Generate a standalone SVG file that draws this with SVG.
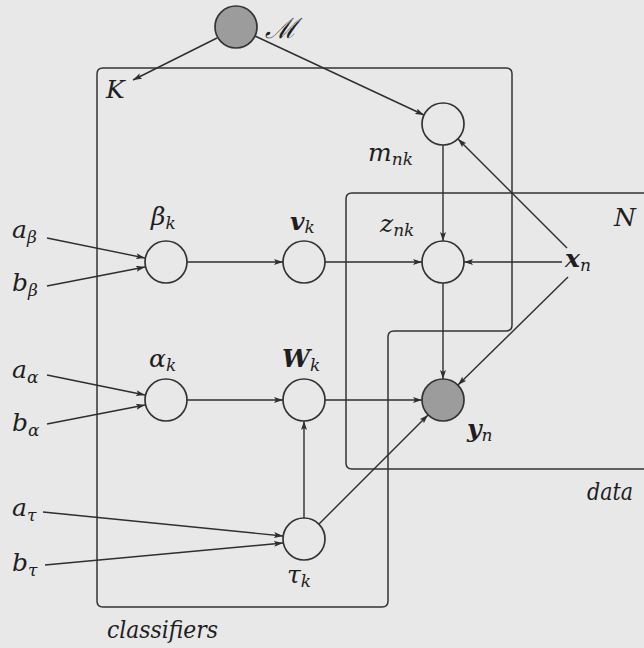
<svg xmlns="http://www.w3.org/2000/svg" width="644" height="648" viewBox="0 0 644 648">
<defs>
<style>
.plate{fill:none;stroke:#333;stroke-width:1.5}
.node{fill:none;stroke:#333;stroke-width:1.7}
.obs{fill:#9c9c9c;stroke:#333;stroke-width:1.7}
.edge{fill:none;stroke:#2e2e2e;stroke-width:1.4;marker-end:url(#arr)}
text{font-family:'DejaVu Serif',serif;font-style:italic;fill:#1e1e1e}
.m{font-size:25px}
.b{font-weight:bold}
.s{font-size:17px;font-weight:normal}
.t{font-size:25px}
</style>
<marker id="arr" viewBox="0 0 9 6" refX="9" refY="3" markerWidth="9" markerHeight="6" markerUnits="userSpaceOnUse" orient="auto">
<path d="M0,0 L9,3 L0,6 L2,3 z" fill="#2e2e2e"/>
</marker>
</defs>
<rect width="644" height="648" fill="#e8e8e8"/>
<g id="plates">
<path id="plate-classifiers" class="plate" d="M103 68 H506 Q512 68 512 74 V325 Q512 331 506 331 H394 Q388 331 388 337 V601 Q388 607 382 607 H103 Q97 607 97 601 V74 Q97 68 103 68 Z"/>
<path id="plate-data" class="plate" d="M660 193 H352 Q346 193 346 199 V463 Q346 469 352 469 H660"/>
<text class="m" x="106" y="98">K</text>
<text class="m" x="614" y="226">N</text>
<text class="t" x="107" y="638" textLength="111" lengthAdjust="spacingAndGlyphs">classifiers</text>
<text class="t" x="587" y="500" textLength="46" lengthAdjust="spacingAndGlyphs">data</text>
</g>
<g id="connectors">
<line class="edge" x1="217" y1="38" x2="133" y2="80"/>
<line class="edge" x1="255" y1="36" x2="424" y2="115"/>
<line class="edge" x1="567" y1="248" x2="458" y2="139"/>
<line class="edge" x1="443" y1="145" x2="443" y2="241"/>
<line class="edge" x1="562" y1="262" x2="464" y2="262"/>
<line class="edge" x1="187" y1="262" x2="283" y2="262"/>
<line class="edge" x1="325" y1="262" x2="422" y2="262"/>
<line class="edge" x1="443" y1="283" x2="443" y2="379"/>
<line class="edge" x1="568" y1="277" x2="458" y2="385"/>
<line class="edge" x1="187" y1="400" x2="283" y2="400"/>
<line class="edge" x1="325" y1="400" x2="422" y2="400"/>
<line class="edge" x1="304" y1="518" x2="304" y2="421"/>
<line class="edge" x1="319" y1="524" x2="428" y2="415"/>
<line class="edge" x1="47" y1="238" x2="145" y2="258"/>
<line class="edge" x1="47" y1="286" x2="145" y2="267"/>
<line class="edge" x1="47" y1="375" x2="145" y2="395"/>
<line class="edge" x1="47" y1="424" x2="145" y2="405"/>
<line class="edge" x1="43" y1="512" x2="283" y2="536"/>
<line class="edge" x1="45" y1="565" x2="283" y2="543"/>
</g>
<g id="node-M">
<circle class="obs" cx="236" cy="27" r="21"/>
<text x="265" y="38" font-style="normal" font-size="28">ℳ</text>
</g>
<g id="node-m">
<circle class="node" cx="443" cy="124" r="21"/>
<text class="m" x="368" y="161">m<tspan class="s" dy="4">nk</tspan></text>
</g>
<g id="node-z">
<circle class="node" cx="443" cy="262" r="21"/>
<text class="m" x="380" y="232">z<tspan class="s" dy="4">nk</tspan></text>
</g>
<g id="node-y">
<circle class="obs" cx="443" cy="400" r="21"/>
<text class="m b" x="467" y="437">y<tspan class="s" dy="4">n</tspan></text>
</g>
<g id="node-x">
<text class="m b" x="565" y="267">x<tspan class="s" dy="4">n</tspan></text>
</g>
<g id="node-beta">
<circle class="node" cx="166" cy="262" r="21"/>
<text class="m" x="151" y="225">β<tspan class="s" dy="4">k</tspan></text>
</g>
<g id="node-v">
<circle class="node" cx="304" cy="262" r="21"/>
<text class="m b" x="290" y="230">v<tspan class="s" dy="3">k</tspan></text>
</g>
<g id="node-alpha">
<circle class="node" cx="166" cy="400" r="21"/>
<text class="m" x="149" y="367">α<tspan class="s" dy="4">k</tspan></text>
</g>
<g id="node-W">
<circle class="node" cx="304" cy="400" r="21"/>
<text class="m b" x="282" y="367">W<tspan class="s" dy="4">k</tspan></text>
</g>
<g id="node-tau">
<circle class="node" cx="304" cy="539" r="21"/>
<text class="m" x="287" y="583">τ<tspan class="s" dy="4">k</tspan></text>
</g>
<g id="hyper">
<text class="m" x="12" y="238">a<tspan class="s" dy="5">β</tspan></text>
<text class="m" x="12" y="291">b<tspan class="s" dy="5">β</tspan></text>
<text class="m" x="12" y="378">a<tspan class="s" dy="5">α</tspan></text>
<text class="m" x="12" y="431">b<tspan class="s" dy="5">α</tspan></text>
<text class="m" x="12" y="516">a<tspan class="s" dy="5">τ</tspan></text>
<text class="m" x="12" y="571">b<tspan class="s" dy="5">τ</tspan></text>
</g>
</svg>
